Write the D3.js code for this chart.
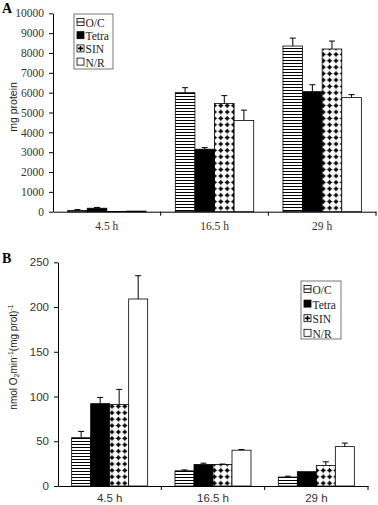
<!DOCTYPE html>
<html><head><meta charset="utf-8">
<script src="https://cdn.jsdelivr.net/npm/d3@7"></script>
<style>body{margin:0;background:#fff}svg{display:block}</style>
</head><body>
<svg id="c" width="378" height="505"></svg>
<script>
const categories = ["4.5 h", "16.5 h", "29 h"];
const seriesNames = ["O/C", "Tetra", "SIN", "N/R"];
// Panel A: mg protein
const aOC = [55, 6000, 8350];
const aTetra = [175, 3150, 6050];
const aSIN = [10, 5450, 8200];
const aNR = [30, 4600, 5750];
const aOCerr = [50, 250, 400];
const aTetraErr = [40, 80, 350];
const aSINerr = [0, 400, 400];
const aNRerr = [0, 520, 150];
const aTicks = [0,1000,2000,3000,4000,5000,6000,7000,8000,9000,10000];
// Panel B: nmol O2 min-1 (mg prot)-1
const bOC = [54, 17, 10];
const bTetra = [92, 24, 16];
const bSIN = [91, 24, 23];
const bNR = [209, 40, 44];
const bOCerr = [7, 1, 1];
const bTetraErr = [7, 1.5, 0];
const bSINerr = [17, 0.5, 4];
const bNRerr = [26, 0.8, 4];
const bTicks = [0,50,100,150,200,250];

const SERIF = "'Liberation Serif', 'Times New Roman', Times, serif";
const SANS = "'Liberation Sans', Arial, Helvetica, sans-serif";

const svg = d3.select("#c");
const defs = svg.append("defs");
const ph = defs.append("pattern").attr("id","hlines").attr("patternUnits","userSpaceOnUse").attr("width",6).attr("height",3);
ph.append("rect").attr("width",6).attr("height",3).attr("fill","#fff");
ph.append("rect").attr("y",0).attr("width",6).attr("height",1).attr("fill","#000");
const pd = defs.append("pattern").attr("id","dots").attr("patternUnits","userSpaceOnUse").attr("width",6.4).attr("height",6.4);
pd.append("rect").attr("width",6.4).attr("height",6.4).attr("fill","#fff");
pd.append("path").attr("d","M3.2,0.4 L4.3,2.1 L6,3.2 L4.3,4.3 L3.2,6 L2.1,4.3 L0.4,3.2 L2.1,2.1 Z").attr("fill","#000");
const fills = ["url(#hlines)", "#000", "url(#dots)", "#fff"];

function panel(cfg){
  const g = svg.append("g");
  const x0 = d3.scaleBand().domain(categories).range([cfg.x0, cfg.x1]).padding(0);
  const y = d3.scaleLinear().domain([0, cfg.max]).range([cfg.yb, cfg.yt]);
  const groupW = cfg.barW * 4;
  const x1 = d3.scaleBand().domain(seriesNames).range([0, groupW]).padding(0);
  categories.forEach((c, ci) => {
    const gx = x0(c) + x0.bandwidth()/2 - groupW/2;
    seriesNames.forEach((s, si) => {
      const v = cfg.vals[si][ci], e = cfg.errs[si][ci];
      const bx = gx + x1(s);
      g.append("rect").attr("x", bx).attr("y", y(v)).attr("width", x1.bandwidth())
        .attr("height", Math.max(0, y(0) - y(v))).attr("fill", fills[si])
        .attr("stroke", "#000").attr("stroke-width", 0.8);
      if (e > 0) {
        const cx = bx + x1.bandwidth()/2;
        g.append("line").attr("x1", cx).attr("x2", cx).attr("y1", y(v)).attr("y2", y(v+e)).attr("stroke","#000").attr("stroke-width",1);
        g.append("line").attr("x1", cx-3).attr("x2", cx+3).attr("y1", y(v+e)).attr("y2", y(v+e)).attr("stroke","#000").attr("stroke-width",1);
      }
    });
  });
  const ya = g.append("g").attr("transform", `translate(${cfg.x0},0)`)
    .call(d3.axisLeft(y).tickValues(cfg.ticks).tickSize(4).tickSizeOuter(0).tickPadding(5).tickFormat(d3.format("d")));
  ya.selectAll("text").attr("font-family", cfg.tickFont).attr("font-size", cfg.tickSize).attr("fill","#333");
  ya.select(".domain").attr("stroke","#000");
  const xa = g.append("g").attr("transform", `translate(0,${cfg.yb})`)
    .call(d3.axisBottom(x0).tickSize(0).tickPadding(cfg.xPad));
  xa.selectAll("text").attr("font-family", cfg.tickFont).attr("font-size", cfg.tickSize).attr("fill","#333");
  xa.select(".domain").attr("stroke","#000");
  const bounds = categories.slice(1).map(c => x0(c)).concat([cfg.x1]);
  g.selectAll(null).data(bounds).enter().append("line")
    .attr("x1", d => d).attr("x2", d => d).attr("y1", cfg.yb).attr("y2", cfg.yb+4).attr("stroke","#000");
  const lg = g.append("g").attr("transform", `translate(${cfg.lx},${cfg.ly})`);
  lg.append("rect").attr("width", cfg.lw).attr("height", cfg.lh).attr("fill","#fff").attr("stroke","#555").attr("stroke-width",0.8);
  seriesNames.forEach((s, i) => {
    const yy = 9 + i*cfg.lstep;
    const sw = lg.append("g").attr("transform", `translate(3,${yy-4.5})`);
    sw.append("rect").attr("width",7).attr("height",7).attr("fill","#fff").attr("stroke","#000").attr("stroke-width",0.8);
    if (i===0) { sw.append("line").attr("x1",0).attr("x2",7).attr("y1",3.5).attr("y2",3.5).attr("stroke","#000"); }
    if (i===1) { sw.select("rect").attr("fill","#000"); }
    if (i===2) { sw.append("path").attr("d","M3.5,1 V6 M1,3.5 H6").attr("stroke","#000").attr("stroke-width",1.6); }
    lg.append("text").attr("x", 11.5).attr("y", yy+4).text(s)
      .attr("font-family", SERIF).attr("font-size", 11.5).attr("fill","#222");
  });
  svg.append("text").attr("x", 2).attr("y", cfg.letterY).text(cfg.letter)
    .attr("font-family", SERIF).attr("font-weight","bold").attr("font-size",14);
}

panel({x0:53, x1:376, yb:211.7, yt:13.3, max:10000, barW:19.6,
  vals:[aOC,aTetra,aSIN,aNR], errs:[aOCerr,aTetraErr,aSINerr,aNRerr], ticks:aTicks,
  tickFont:SERIF, tickSize:11.5, xPad:10,
  lx:74, ly:14, lw:39, lh:55, lstep:13.2, letter:"A", letterY:13});

panel({x0:58, x1:368, yb:486, yt:262.3, max:250, barW:19,
  vals:[bOC,bTetra,bSIN,bNR], errs:[bOCerr,bTetraErr,bSINerr,bNRerr], ticks:bTicks,
  tickFont:SANS, tickSize:11.5, xPad:8,
  lx:301, ly:281, lw:40, lh:58, lstep:14.6, letter:"B", letterY:263});

svg.append("text").attr("transform","translate(17,107) rotate(-90)").attr("text-anchor","middle")
  .attr("font-family", SANS).attr("font-size",10.5).attr("fill","#222").text("mg protein");
const t2 = svg.append("text").attr("transform","translate(17,357) rotate(-90)").attr("text-anchor","middle")
  .attr("font-family", SANS).attr("font-size",10).attr("fill","#222");
t2.append("tspan").text("nmol O");
t2.append("tspan").attr("font-size",7).attr("dy",2).text("2");
t2.append("tspan").attr("dy",-2).text("min");
t2.append("tspan").attr("font-size",7).attr("dy",-4).text("-1");
t2.append("tspan").attr("dy",4).text("(mg prot)");
t2.append("tspan").attr("font-size",7).attr("dy",-4).text("-1");
</script>
</body></html>
